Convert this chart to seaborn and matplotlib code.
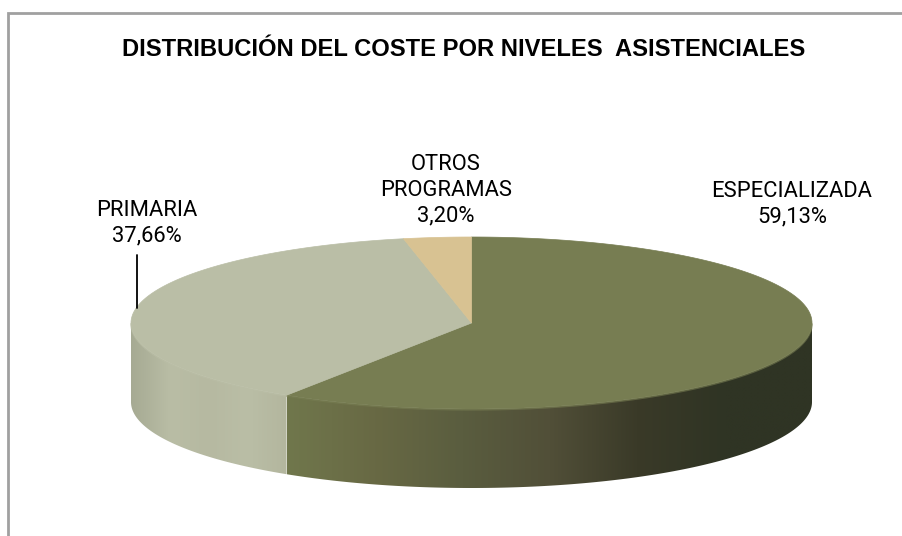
import matplotlib
matplotlib.use('Agg')
import matplotlib.pyplot as plt
import matplotlib.patches as patches
import seaborn as sns
import numpy as np

# Data
categories = ["ESPECIALIZADA", "PRIMARIA", "OTROS\nPROGRAMAS"]
shares = [59.13, 37.66, 3.20]
title = "DISTRIBUCIÓN DEL COSTE POR NIVELES  ASISTENCIALES"

# Colours (top faces and wall gradients)
top_colors = ["#777D52", "#BABEA6", "#D8C292"]
wall_colors = [
    ["#70774C", "#686944", "#5A5D3F", "#514F38", "#3A3A28", "#2F3424", "#2F3424"],
    ["#A6AA93", "#B9BDA5", "#B6B9A1", "#BABEA6", "#B3B69E"],
    ["#C9B483", "#C9B483"],
]

sns.set_theme(style="white")
plt.rcParams['font.family'] = ['Roboto', 'DejaVu Sans']

fig = plt.figure(figsize=(9.02, 5.36), dpi=100, facecolor="white")
ax = fig.add_axes([0, 0, 1, 1])
ax.set_xlim(0, 902)
ax.set_ylim(536, 0)
ax.axis('off')

# pie geometry (pixels)
cx, cy = 471.5, 323
ra, rb = 340.5, 86
depth = 79

fracs = np.array(shares) / np.sum(shares)
starts = 90 - 360 * np.concatenate([[0], np.cumsum(fracs)[:-1]])
ends = starts - 360 * fracs


def ell(theta_deg, dy=0):
    t = np.radians(theta_deg)
    return cx + ra * np.cos(t), cy - rb * np.sin(t) + dy


# side walls (front half only)
for i in range(len(shares)):
    th = np.linspace(ends[i], starts[i], 400)
    vis = th[np.sin(np.radians(th)) <= 1e-9]
    if len(vis) < 2:
        continue
    xt, yt = ell(vis)
    xb, yb = ell(vis[::-1], depth)
    poly = patches.Polygon(np.column_stack([np.r_[xt, xb], np.r_[yt, yb]]),
                           closed=True, fc='none', ec='none')
    ax.add_patch(poly)
    cmap = sns.blend_palette(wall_colors[i], n_colors=256, as_cmap=True)
    x0, x1 = xt.min(), xt.max()
    grad = np.linspace(0, 1, 256).reshape(1, -1)
    im = ax.imshow(grad, cmap=cmap, extent=(x0, x1, yt.max() + depth + 2, yt.min() - 2),
                   aspect='auto', interpolation='bilinear', zorder=1)
    im.set_clip_path(poly)
    ax.plot(xt, yt + 0.8, color=top_colors[i], lw=1.2, alpha=0.6, zorder=2)

# top faces
for i in range(len(shares)):
    th = np.linspace(starts[i], ends[i], 300)
    xs, ys = ell(th)
    pts = np.column_stack([np.r_[cx, xs], np.r_[cy, ys]])
    ax.add_patch(patches.Polygon(pts, closed=True, fc=top_colors[i], ec=top_colors[i],
                                 lw=0.5, zorder=3))

# labels
pct = [f"{v:.2f}%".replace('.', ',') for v in shares]
label_pos = [(792, 204), (147, 223), (446, 190)]
for name, p, (lx, ly) in zip(categories, pct, label_pos):
    ax.text(lx, ly, f"{name}\n{p}", ha='center', va='center', fontsize=15.8,
            color='black', linespacing=1.28, zorder=5)

# leader line for PRIMARIA
ax.plot([137, 137], [255, 308], color='black', lw=1.3, zorder=5)

# title
ax.text(463.5, 49, title, ha='center', va='center', fontsize=17.1, fontweight='bold',
        family=['Liberation Sans', 'DejaVu Sans'], color='black')

# chart area border (left and top visible)
ax.plot([8, 8, 902], [536, 13, 13], color='#A0A0A0', lw=2, solid_joinstyle='miter',
        zorder=6)

fig.savefig("out.png", dpi=100, facecolor="white")
